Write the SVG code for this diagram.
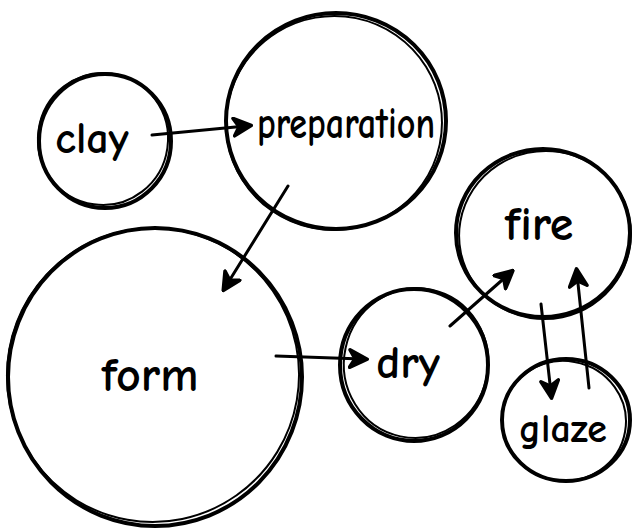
<svg xmlns="http://www.w3.org/2000/svg" width="632" height="529" viewBox="0 0 632 529">
<style>
.c1{fill:none;stroke:#000;stroke-width:4}
.c2{fill:none;stroke:#000;stroke-width:2}
.lbl{font-family:"Comic Neue","Liberation Sans","DejaVu Sans",sans-serif;fill:#000;font-weight:bold}
.edge{fill:none;stroke:#000;stroke-width:3;stroke-linecap:round;marker-end:url(#ah)}
</style>
<defs>
<marker id="ah" viewBox="0 0 12 12" refX="8" refY="6" markerWidth="7" markerHeight="7" orient="auto" markerUnits="strokeWidth">
<path d="M1,1 L11,6 L1,11 L4,6 Z" fill="#000" stroke="#000" stroke-width="2" stroke-linejoin="round"/>
</marker>
</defs>
<rect width="632" height="529" fill="#fff"/>
<g id="connectors">
<path class="edge" d="M152,135 L246,126"/>
<path class="edge" d="M288,186 L226,286"/>
<path class="edge" d="M276,356 L362,359"/>
<path class="edge" d="M450,326 L509,274"/>
<path class="edge" d="M541,304 L551,393"/>
<path class="edge" d="M589,388 L577,274"/>
</g>
<g id="clay">
<ellipse class="c1" cx="105" cy="141" rx="66" ry="67"/>
<ellipse class="c2" cx="103" cy="139" rx="65" ry="66" transform="rotate(8 103 139)"/>
<text class="lbl" x="92" y="153" text-anchor="middle" font-size="44">clay</text>
</g>
<g id="preparation">
<ellipse class="c1" cx="336" cy="121" rx="110" ry="108"/>
<ellipse class="c2" cx="334" cy="123" rx="108" ry="107" transform="rotate(-10 334 123)"/>
<text class="lbl" x="346" y="138" text-anchor="middle" font-size="45" textLength="178" lengthAdjust="spacingAndGlyphs">preparation</text>
</g>
<g id="form">
<ellipse class="c1" cx="155" cy="377" rx="147" ry="149"/>
<ellipse class="c2" cx="153" cy="375" rx="146" ry="147" transform="rotate(10 153 375)"/>
<text class="lbl" x="150" y="391" text-anchor="middle" font-size="48">form</text>
</g>
<g id="dry">
<ellipse class="c1" cx="414" cy="365" rx="74" ry="76"/>
<ellipse class="c2" cx="416" cy="363" rx="72" ry="75" transform="rotate(12 416 363)"/>
<text class="lbl" x="408" y="378" text-anchor="middle" font-size="46">dry</text>
</g>
<g id="fire">
<ellipse class="c1" cx="543" cy="233" rx="87" ry="84"/>
<ellipse class="c2" cx="545" cy="235" rx="86" ry="84" transform="rotate(-12 545 235)"/>
<text class="lbl" x="539" y="240" text-anchor="middle" font-size="48">fire</text>
</g>
<g id="glaze">
<ellipse class="c1" cx="566" cy="420" rx="64" ry="61"/>
<ellipse class="c2" cx="564" cy="421" rx="62" ry="60" transform="rotate(10 564 421)"/>
<text class="lbl" x="563" y="442" text-anchor="middle" font-size="40">glaze</text>
</g>
</svg>
